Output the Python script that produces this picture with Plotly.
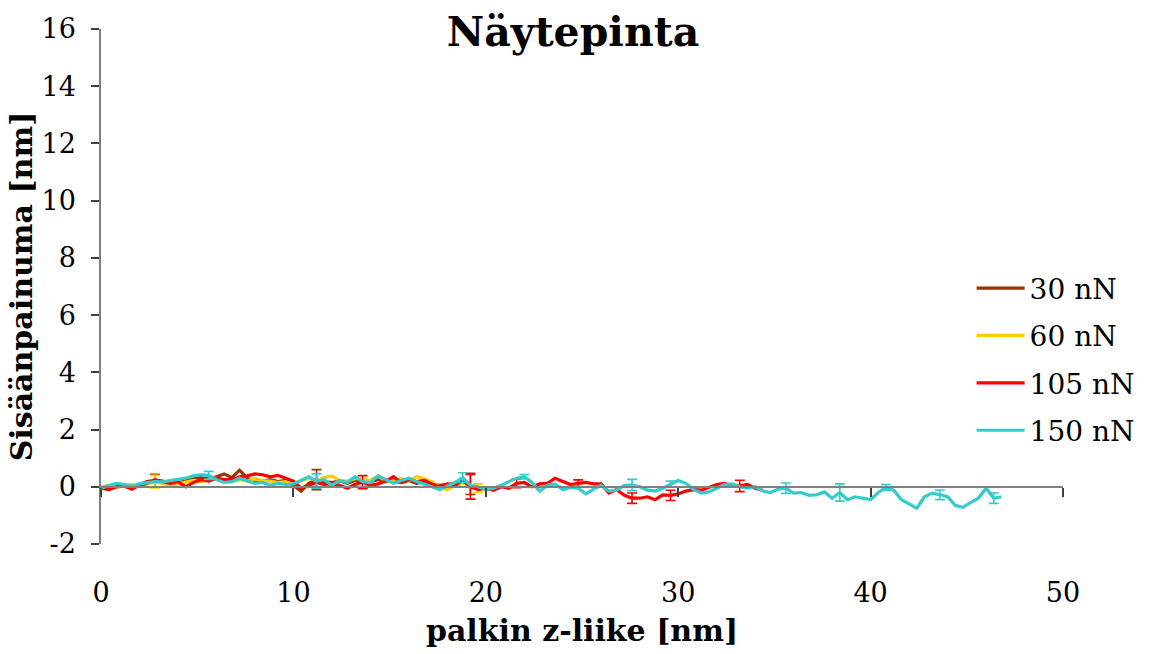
import numpy as np
import plotly.graph_objects as go

STEP = 0.4  # z-movement sampling step [nm]

# Indentation [nm] per load, sampled every STEP nm of cantilever z-movement
y_30 = [0.0, -0.10, 0.0, 0.02, -0.08, 0.08, 0.18, 0.22, 0.20, 0.10, 0.12, 0.22, 0.28,
        0.32, 0.28, 0.35, 0.45, 0.32, 0.58, 0.30, 0.15, 0.20, 0.25, 0.18, 0.22,
        0.05, -0.15, 0.12, 0.25, 0.18, 0.15, 0.20, 0.12, 0.22, 0.15, 0.18, 0.25,
        0.18, 0.20, 0.15, 0.22, 0.12, 0.18, 0.10, 0.05, 0.08, 0.12, 0.20, 0.10]
y_60 = [0.0, 0.05, 0.0, 0.05, 0.08, 0.02, 0.10, 0.18, 0.12, 0.05, 0.10, 0.15, 0.22,
        0.18, 0.25, 0.30, 0.20, 0.18, 0.25, 0.20, 0.28, 0.22, 0.20, 0.15, 0.18,
        0.12, 0.20, 0.30, 0.22, 0.32, 0.38, 0.22, 0.20, 0.28, 0.28, 0.22, 0.38, 0.20,
        0.22, 0.28, 0.20, 0.35, 0.28, 0.18, 0.0, -0.10, 0.05, 0.15, 0.0, -0.05, -0.10]
y_105 = [-0.05, -0.10, 0.0, 0.05, -0.08, 0.05, 0.12, 0.25, 0.18, 0.12, 0.18, 0.0, 0.15,
         0.25, 0.20, 0.30, 0.25, 0.25, 0.35, 0.38, 0.45, 0.42, 0.35, 0.40, 0.30,
         0.20, -0.05, 0.05, 0.15, 0.08, 0.10, 0.05, -0.05, 0.08, 0.16, 0.05, 0.10, 0.20,
         0.35, 0.15, 0.25, 0.18, 0.22, 0.10, 0.0, 0.10, 0.05, 0.22, 0.0, -0.10,
         -0.05, -0.12, 0.0, -0.05, 0.12, 0.15, 0.0, 0.10, 0.12, 0.30, 0.18, 0.08, 0.12,
         0.15, 0.10, 0.10, -0.22, -0.10, -0.30, -0.40, -0.40, -0.35, -0.45, -0.28, -0.30,
         -0.25, -0.15, -0.10, -0.12, -0.02, 0.08, 0.12, 0.05, 0.03, 0.08, -0.05, -0.12]
y_150 = [-0.05, 0.05, 0.12, 0.08, 0.02, 0.10, 0.15, 0.18, 0.17, 0.22, 0.26, 0.30, 0.38,
         0.42, 0.40, 0.25, 0.15, 0.18, 0.30, 0.22, 0.12, 0.15, 0.05, 0.12, 0.08,
         0.10, 0.22, 0.35, 0.20, 0.25, 0.05, 0.22, 0.15, 0.35, 0.18, 0.15, 0.38, 0.25,
         0.12, 0.22, 0.30, 0.18, 0.10, 0.0, -0.10, 0.02, 0.15, 0.32, 0.05, 0.0,
         -0.10, -0.05, 0.05, 0.18, 0.30, 0.35, 0.15, -0.15, 0.05, 0.10, -0.10, -0.02,
         -0.05, -0.25, -0.08, 0.05, -0.15, -0.12, 0.05, 0.06, 0.0, -0.12, -0.15, -0.05, 0.10,
         0.22, 0.12, -0.10, -0.22, -0.18, -0.05, 0.08, 0.10, 0.0, -0.05, 0.0, -0.15,
         -0.20, -0.08, -0.05, -0.22, -0.20, -0.30, -0.28, -0.18, -0.40, -0.20, -0.45, -0.35, -0.40,
         -0.45, -0.20, -0.02, -0.12, -0.45, -0.60, -0.75, -0.35, -0.22, -0.28, -0.35,
         -0.65, -0.72, -0.55, -0.40, -0.05, -0.40, -0.35]

# Standard deviation at selected z positions
err_x_30 = [2.8, 11.2, 19.2]
err_v_30 = [0.22, 0.35, 0.37]
err_x_60 = [2.8, 19.6]
err_v_60 = [0.22, 0.15]
err_x_105 = [13.6, 19.2, 21.6, 24.8, 27.6, 29.6, 33.2]
err_v_105 = [0.23, 0.43, 0.15, 0.12, 0.18, 0.18, 0.20]
err_x_150 = [5.6, 11.2, 18.8, 22.0, 27.6, 29.6, 35.6, 38.4, 40.8, 43.6, 46.4]
err_v_150 = [0.14, 0.25, 0.17, 0.08, 0.20, 0.10, 0.18, 0.30, 0.10, 0.17, 0.18]

labels = ["30 nN", "60 nN", "105 nN", "150 nN"]
colors = ["#993300", "#FFCC00", "#FF0000", "#33CCCC"]
series = [y_30, y_60, y_105, y_150]
errs = [(err_x_30, err_v_30), (err_x_60, err_v_60),
        (err_x_105, err_v_105), (err_x_150, err_v_150)]

y_ticks = [-2, 0, 2, 4, 6, 8, 10, 12, 14, 16]

FONT = "DejaVu Serif"

fig = go.Figure()
for name, col, ys, (ex, ev) in zip(labels, colors, series, errs):
    xs = np.round(np.arange(len(ys)) * STEP, 1)
    fig.add_trace(go.Scatter(
        x=xs, y=ys, mode="lines", name=name, legendgroup=name,
        line=dict(color=col, width=3.2), hoverinfo="skip"))
    idx = [int(round(v / STEP)) for v in ex]
    fig.add_trace(go.Scatter(
        x=[xs[i] for i in idx], y=[ys[i] for i in idx], mode="markers",
        marker=dict(size=1, opacity=0), showlegend=False, legendgroup=name,
        error_y=dict(type="data", array=ev, color=col, thickness=1.6, width=5),
        hoverinfo="skip"))

# helper trace so the axis drawn through y = 0 is rendered
fig.add_trace(go.Scatter(x=[0], y=[None], xaxis="x2", mode="markers",
                         showlegend=False, hoverinfo="skip"))

fig.update_layout(
    width=1149, height=654,
    margin=dict(l=101, r=86, t=29, b=110, autoexpand=False),
    plot_bgcolor="white", paper_bgcolor="white",
    font=dict(family=FONT, size=28, color="black"),
    title=dict(text="<b>Näytepinta</b>", x=573 / 1149, xanchor="center",
               y=1 - 32 / 654, yanchor="middle", yref="container",
               font=dict(family=FONT, size=41, color="black")),
    xaxis=dict(range=[0, 50], dtick=10, showline=False, showgrid=False,
               zeroline=False, ticks="", ticklabelstandoff=30,
               tickfont=dict(size=27), automargin=False,
               title=dict(text="<b>palkin z-liike [nm]</b>", standoff=12,
                          font=dict(size=30))),
    xaxis2=dict(range=[0, 50], dtick=10, overlaying="x", anchor="free",
                position=2 / 18, side="bottom", showline=True,
                linecolor="#808080", linewidth=1.5, ticks="outside",
                ticklen=9, tickwidth=1.5, tickcolor="#404040",
                showticklabels=False, showgrid=False, zeroline=False,
                automargin=False),
    yaxis=dict(range=[-2, 16], tickvals=y_ticks,
               ticktext=[str(v) for v in y_ticks],
               showline=True, linecolor="#808080",
               linewidth=1.5, ticks="outside", ticklen=8, tickwidth=1.5,
               tickcolor="#404040", showgrid=False, zeroline=False,
               ticklabelstandoff=10, tickfont=dict(size=27), automargin=False,
               title=dict(text="<b>Sisäänpainuma [nm]</b>", standoff=0,
                          font=dict(size=30))),
    legend=dict(x=0.905, y=0.545, xanchor="left", yanchor="top",
                traceorder="grouped", tracegroupgap=8, itemwidth=48,
                font=dict(family=FONT, size=28), bgcolor="rgba(0,0,0,0)"),
    showlegend=True,
)

fig.write_html("out.html")
